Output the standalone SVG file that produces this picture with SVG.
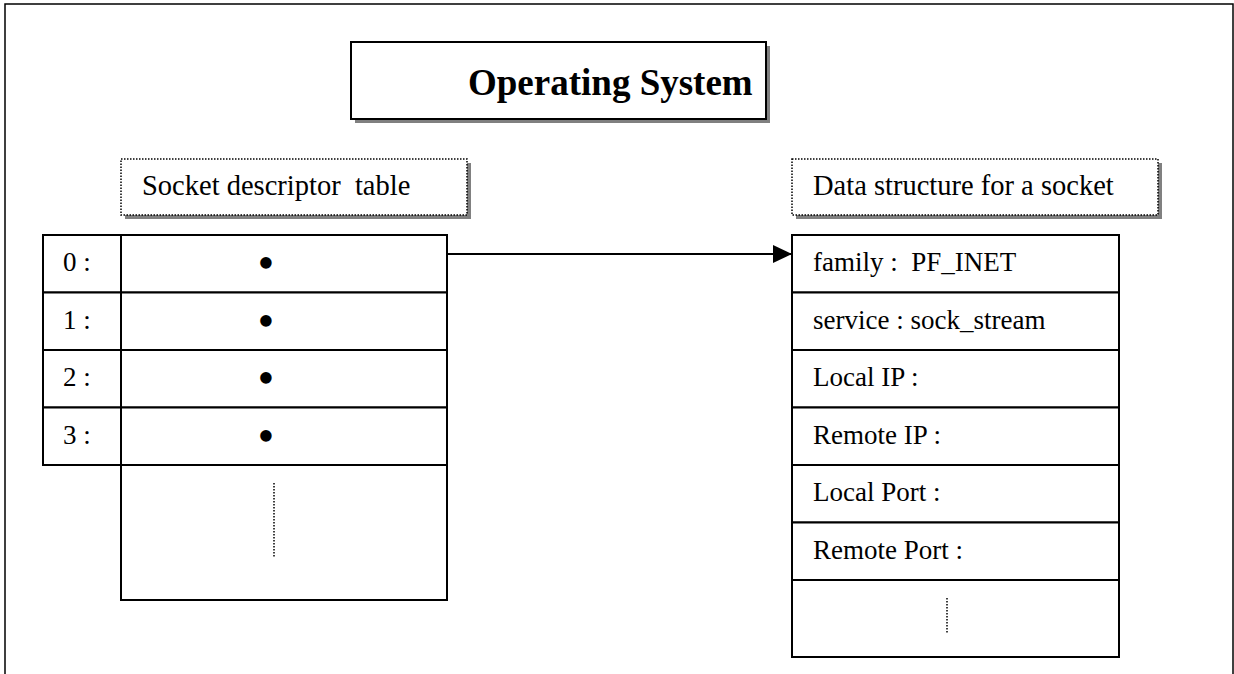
<svg xmlns="http://www.w3.org/2000/svg" width="1234" height="674" viewBox="0 0 1234 674">
<style>
.bg{fill:#fff}
.cell{fill:#fff;stroke:#000;stroke-width:2}
.shadow{fill:#808080}
.dotbox{fill:#fff;stroke:#000;stroke-width:1.5;stroke-dasharray:1.5 1.5}
.t{font-family:"Liberation Serif","Times New Roman",serif;font-size:27px;fill:#000}
.b{font-family:"Liberation Serif","Times New Roman",serif;font-size:48px;fill:#000}
.lbl{font-family:"Liberation Serif","Times New Roman",serif;font-size:28.5px;fill:#000}
.title{font-family:"Liberation Serif","Times New Roman",serif;font-size:37px;font-weight:bold;fill:#000}
.dots{stroke:#000;stroke-width:1.5;stroke-dasharray:1.5 1.5;fill:none}
.conn{stroke:#000;stroke-width:2;fill:none}
</style>
<defs>
<marker id="arr" markerWidth="19" markerHeight="18" refX="19" refY="9" orient="auto" markerUnits="userSpaceOnUse" viewBox="0 0 19 18">
<path d="M0,0 L19,9 L0,18 z" fill="#000"/>
</marker>
</defs>
<rect class="bg" x="0" y="0" width="1234" height="674"/>
<rect x="5" y="4" width="1228" height="700" fill="none" stroke="#000" stroke-width="1.5"/>

<g id="title">
<rect class="shadow" x="355" y="46" width="415" height="77"/>
<rect class="cell" x="351" y="42" width="415" height="77"/>
<text class="title" x="468" y="95">Operating System</text>
</g>

<g id="label-table">
<rect class="shadow" x="125" y="163" width="346" height="56"/>
<rect class="dotbox" x="121" y="159" width="346" height="56"/>
<text class="lbl" x="142" y="195" xml:space="preserve">Socket descriptor  table</text>
</g>

<g id="label-socket">
<rect class="shadow" x="796" y="163" width="366" height="56"/>
<rect class="dotbox" x="792" y="159" width="366" height="56"/>
<text class="lbl" x="813" y="195">Data structure for a socket</text>
</g>

<g id="descriptor-table">
<rect class="cell" x="43" y="235" width="78" height="57.5"/>
<rect class="cell" x="121" y="235" width="326" height="57.5"/>
<rect class="cell" x="43" y="292.5" width="78" height="57.5"/>
<rect class="cell" x="121" y="292.5" width="326" height="57.5"/>
<rect class="cell" x="43" y="350" width="78" height="57.5"/>
<rect class="cell" x="121" y="350" width="326" height="57.5"/>
<rect class="cell" x="43" y="407.5" width="78" height="57.5"/>
<rect class="cell" x="121" y="407.5" width="326" height="57.5"/>
<rect class="cell" x="121" y="465" width="326" height="135"/>
<text class="t" x="63" y="271">0 :</text>
<text class="t" x="63" y="329">1 :</text>
<text class="t" x="63" y="386">2 :</text>
<text class="t" x="63" y="444">3 :</text>
<text class="b" x="266" y="279" text-anchor="middle">•</text>
<text class="b" x="266" y="337" text-anchor="middle">•</text>
<text class="b" x="266" y="394" text-anchor="middle">•</text>
<text class="b" x="266" y="452" text-anchor="middle">•</text>
<line class="dots" x1="274" y1="483" x2="274" y2="557"/>
</g>

<g id="socket-struct">
<rect class="cell" x="792" y="235" width="327" height="57.5"/>
<rect class="cell" x="792" y="292.5" width="327" height="57.5"/>
<rect class="cell" x="792" y="350" width="327" height="57.5"/>
<rect class="cell" x="792" y="407.5" width="327" height="57.5"/>
<rect class="cell" x="792" y="465" width="327" height="57.5"/>
<rect class="cell" x="792" y="522.5" width="327" height="57.5"/>
<rect class="cell" x="792" y="580" width="327" height="77"/>
<text class="t" x="813" y="271" xml:space="preserve">family :  PF_INET</text>
<text class="t" x="813" y="329">service : sock_stream</text>
<text class="t" x="813" y="386">Local IP :</text>
<text class="t" x="813" y="444">Remote IP :</text>
<text class="t" x="813" y="501">Local Port :</text>
<text class="t" x="813" y="559">Remote Port :</text>
<line class="dots" x1="947" y1="598" x2="947" y2="634"/>
</g>

<g id="connectors">
<line class="conn" x1="447" y1="254" x2="792" y2="254" marker-end="url(#arr)"/>
</g>
</svg>
